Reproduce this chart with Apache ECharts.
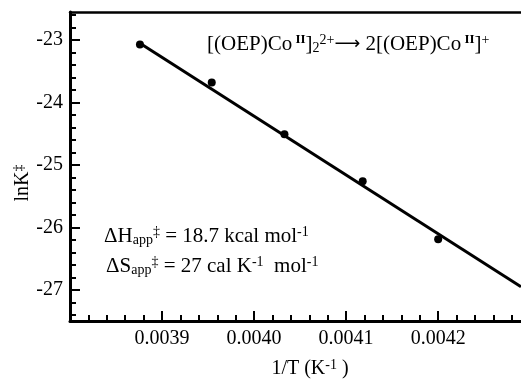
<!DOCTYPE html>
<html>
<head>
<meta charset="utf-8">
<script src="https://cdn.jsdelivr.net/npm/echarts@6/dist/echarts.min.js"></script>
<style>html,body{margin:0;padding:0;background:#fff}#c{width:521px;height:379px}</style>
</head>
<body>
<div id="c"></div>
<script>
// Data
const invT = [0.003876, 0.003954, 0.004033, 0.004118, 0.004200];
const lnK = [-23.07, -23.68, -24.51, -25.26, -26.19];
const fitX = [0.003876, 0.00429];
const fitY = [-23.05, -26.95];
const xMajorTicks = [0.0039, 0.0040, 0.0041, 0.0042];
const xTickLabels = ['0.0039', '0.0040', '0.0041', '0.0042'];
const yMajorTicks = [-27, -26, -25, -24, -23];
const yTickLabels = ['-27', '-26', '-25', '-24', '-23'];

const XMIN = 0.0038, XMAX = 0.00429, YMIN = -27.5, YMAX = -22.55;
const xMinor = [];
for (let i = 0; i * 0.00002 + XMIN <= XMAX + 1e-12; i++) {
  const v = +(XMIN + i * 0.00002).toFixed(6);
  if (!xMajorTicks.some(m => Math.abs(m - v) < 1e-9)) xMinor.push(v);
}
const yMinor = [];
for (let i = 0; ; i++) {
  const v = +(-27.4 + i * 0.2).toFixed(2);
  if (v > YMAX) break;
  if (!yMajorTicks.some(m => Math.abs(m - v) < 1e-9)) yMinor.push(v);
}

const FONT = 'Liberation Serif';
const chart = echarts.init(document.getElementById('c'), null, {renderer: 'canvas'});
const grid = {left: 70, right: 0, top: 12, bottom: 58};
const axLine = {show: true, lineStyle: {color: '#000', width: 3}};

const rich = {
  n: {fontFamily: FONT, fontSize: 21, color: '#000', verticalAlign: 'middle', lineHeight: 22},
  nx: {fontFamily: FONT, fontSize: 20, color: '#000', verticalAlign: 'middle', lineHeight: 22},
  sup: {fontFamily: FONT, fontSize: 14, color: '#000', verticalAlign: 'top', lineHeight: 22},
  sub: {fontFamily: FONT, fontSize: 14, color: '#000', verticalAlign: 'bottom', lineHeight: 22},
  supb: {fontFamily: FONT, fontSize: 13, fontWeight: 'bold', color: '#000', verticalAlign: 'top', lineHeight: 22},
  arr: {fontFamily: 'DejaVu Sans', fontSize: 18, color: '#000', verticalAlign: 'middle', lineHeight: 22}
};

chart.setOption({
  animation: false,
  backgroundColor: '#fff',
  grid: grid,
  xAxis: [
    {type: 'value', min: XMIN, max: XMAX, position: 'bottom', axisLine: axLine,
     splitLine: {show: false},
     axisTick: {show: true, inside: true, length: 10, lineStyle: {color: '#000', width: 2}, customValues: xMajorTicks},
     axisLabel: {show: true, customValues: xMajorTicks, margin: 8, color: '#000', fontFamily: FONT, fontSize: 20,
       formatter: v => { const i = xMajorTicks.findIndex(m => Math.abs(m - v) < 1e-9); return i >= 0 ? xTickLabels[i] : ''; }}},
    {type: 'value', min: XMIN, max: XMAX, position: 'bottom', axisLine: {show: false},
     splitLine: {show: false},
     axisTick: {show: true, inside: true, length: 6, lineStyle: {color: '#000', width: 2}, customValues: xMinor},
     axisLabel: {show: false}},
    {type: 'value', min: XMIN, max: XMAX, position: 'top', axisLine: {show: true, lineStyle: {color: '#000', width: 2.5}},
     splitLine: {show: false}, axisTick: {show: false}, axisLabel: {show: false}}
  ],
  yAxis: [
    {type: 'value', min: YMIN, max: YMAX, position: 'left', axisLine: axLine,
     splitLine: {show: false},
     axisTick: {show: true, inside: true, length: 10, lineStyle: {color: '#000', width: 2}, customValues: yMajorTicks},
     axisLabel: {show: true, customValues: yMajorTicks, margin: 7, color: '#000', fontFamily: FONT, fontSize: 20,
       formatter: v => { const i = yMajorTicks.findIndex(m => Math.abs(m - v) < 1e-9); return i >= 0 ? yTickLabels[i] : ''; }}},
    {type: 'value', min: YMIN, max: YMAX, position: 'left', axisLine: {show: false},
     splitLine: {show: false},
     axisTick: {show: true, inside: true, length: 6, lineStyle: {color: '#000', width: 2}, customValues: yMinor},
     axisLabel: {show: false}}
  ],
  series: [
    {type: 'line', data: fitX.map((x, i) => [x, fitY[i]]), showSymbol: false, symbol: 'none',
     lineStyle: {color: '#000', width: 3}, clip: true, z: 3},
    {type: 'scatter', data: invT.map((x, i) => [x, lnK[i]]), symbol: 'circle', symbolSize: 8,
     itemStyle: {color: '#000', opacity: 1}, z: 4}
  ],
  graphic: [
    {type: 'text', id: 'ylab', x: 23, y: 183, rotation: Math.PI / 2, silent: true,
     style: {text: '{nx|lnK}{sup|‡}', rich: rich, align: 'center', verticalAlign: 'middle'}},
    {type: 'text', id: 'xlab', x: 310, y: 369, silent: true,
     style: {text: '{nx|1/T (K}{sup|-1}{nx| )}', rich: rich, align: 'center', verticalAlign: 'middle'}},
    {type: 'text', id: 'rxn', x: 207, y: 44, silent: true,
     style: {text: '{n|[(OEP)Co}{supb| II}{n|]}{sub|2}{sup|2+}{arr|⟶}{n| 2[(OEP)Co}{supb| II}{n|]}{sup|+}', rich: rich, align: 'left', verticalAlign: 'middle'}},
    {type: 'text', id: 'dh', x: 104, y: 236, silent: true,
     style: {text: '{n|ΔH}{sub|app}{sup|‡}{n| = 18.7 kcal mol}{sup|-1}', rich: rich, align: 'left', verticalAlign: 'middle'}},
    {type: 'text', id: 'ds', x: 106, y: 266, silent: true,
     style: {text: '{n|ΔS}{sub|app}{sup|‡}{n| = 27 cal K}{sup|-1}{n|  mol}{sup|-1}', rich: rich, align: 'left', verticalAlign: 'middle'}}
  ]
});
</script>
</body>
</html>
